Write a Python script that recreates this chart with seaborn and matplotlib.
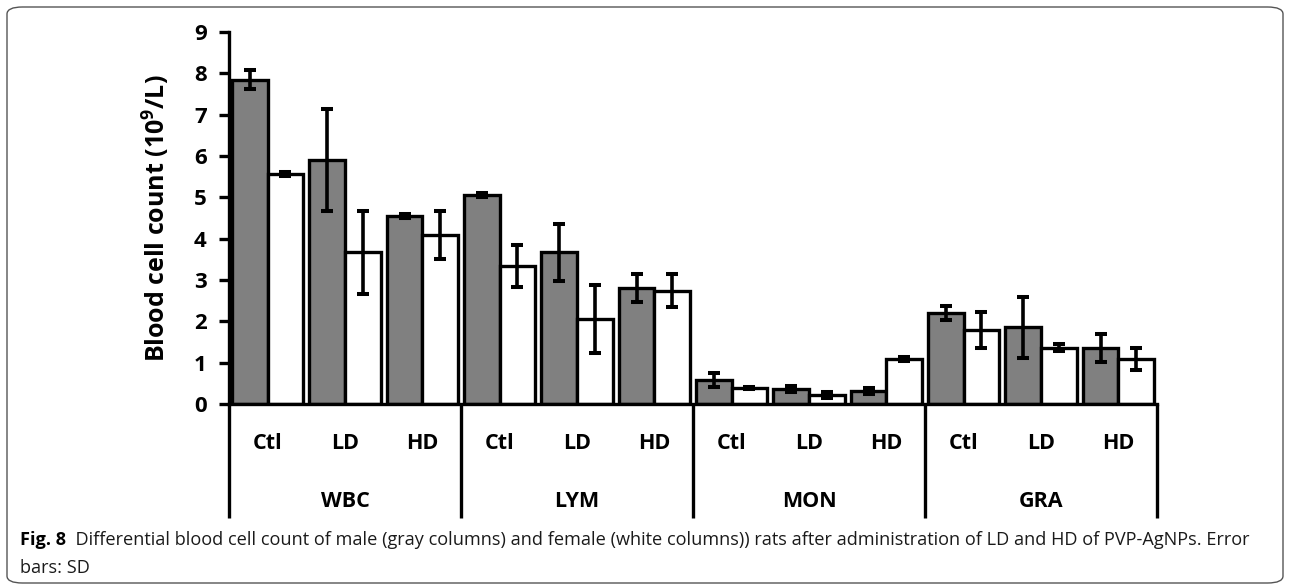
import numpy as np
import pandas as pd
import matplotlib
matplotlib.use("Agg")
import matplotlib.pyplot as plt
import matplotlib.transforms as mtransforms
from matplotlib.patches import FancyBboxPatch
import seaborn as sns

# Cell types and treatment groups
cell_types = ["WBC", "LYM", "MON", "GRA"]
treatments = ["Ctl", "LD", "HD"]
sexes = ["Male", "Female"]

# Mean counts (10^9/L) and SD, ordered cell type x treatment
male_mean = [7.85, 5.90, 4.54, 5.06, 3.67, 2.81, 0.58, 0.36, 0.32, 2.20, 1.86, 1.35]
male_sd = [0.22, 1.24, 0.05, 0.05, 0.69, 0.34, 0.16, 0.07, 0.07, 0.16, 0.74, 0.34]
female_mean = [5.56, 3.67, 4.09, 3.34, 2.06, 2.74, 0.38, 0.22, 1.09, 1.79, 1.36, 1.09]
female_sd = [0.05, 1.00, 0.58, 0.50, 0.82, 0.40, 0.02, 0.07, 0.05, 0.44, 0.08, 0.27]

caption_bold = "Fig. 8"
caption_rest = ("  Differential blood cell count of male (gray columns) and female (white columns)) "
                "rats after administration of LD and HD of PVP-AgNPs. Error")
caption_line2 = "bars: SD"

sns.set_theme(style="white")
chart_font = ["Open Sans", "DejaVu Sans"]
plt.rcParams["font.family"] = chart_font
plt.rcParams["mathtext.fontset"] = "custom"
plt.rcParams["mathtext.rm"] = "Open Sans:bold"
plt.rcParams["mathtext.default"] = "rm"

keys = [f"{c} {t}" for c in cell_types for t in treatments]
df = pd.DataFrame({
    "key": keys * 2,
    "sex": ["Male"] * len(keys) + ["Female"] * len(keys),
    "count": male_mean + female_mean,
})

fig = plt.figure(figsize=(12.9, 5.86), dpi=100)
ax = fig.add_axes([229 / 1290, 1 - 404 / 586, 928 / 1290, 372 / 586])

lw = 2.4
sns.barplot(data=df, x="key", y="count", hue="sex", order=keys, hue_order=sexes,
            palette={"Male": "#808080", "Female": "#ffffff"}, width=0.92,
            edgecolor="black", linewidth=lw, errorbar=None, legend=False,
            saturation=1, ax=ax)

# SD error bars on each bar
for cont, means, sds in zip(ax.containers, [male_mean, female_mean], [male_sd, female_sd]):
    xs = [p.get_x() + p.get_width() / 2 for p in cont.patches]
    ax.errorbar(xs, means, yerr=sds, fmt="none", ecolor="black",
                elinewidth=lw + 0.2, capsize=4.5, capthick=lw + 0.5, zorder=5)

ax.set_xlim(-0.5, len(keys) - 0.5)
ax.set_ylim(0, 9)
ax.set_yticks(range(0, 10))
ax.set_ylabel("Blood cell count (10$^9$/L)", fontsize=18, fontweight="bold",
              labelpad=16, color="black")
ax.set_xlabel("")

for s in ["top", "right"]:
    ax.spines[s].set_visible(False)
for s in ["left", "bottom"]:
    ax.spines[s].set_linewidth(lw)
    ax.spines[s].set_color("black")
    ax.spines[s].set_capstyle("projecting")

ax.tick_params(axis="y", which="major", direction="out", length=7, width=lw,
               color="black", left=True, labelsize=16, pad=9, labelcolor="black")
for lab in ax.get_yticklabels():
    lab.set_fontweight("bold")

ax.set_xticks(range(len(keys)))
ax.set_xticklabels([t for c in cell_types for t in treatments], fontsize=15.5,
                   fontweight="bold", color="black")
ax.tick_params(axis="x", length=0, pad=21)

# Group separators and cell type labels below the axis
trans = mtransforms.blended_transform_factory(ax.transData, ax.transAxes)
for i in range(len(cell_types) + 1):
    x = -0.5 + 3 * i
    ax.plot([x, x], [0, -0.307], transform=trans, color="black", lw=lw,
            clip_on=False, solid_capstyle="butt")
for i, c in enumerate(cell_types):
    ax.text(1 + 3 * i, -0.262, c, transform=trans, ha="center", va="center",
            fontsize=15.5, fontweight="bold", color="black")

# Rounded frame around the figure
frame = FancyBboxPatch((7 / 1290, 3 / 586), 1276 / 1290, 576 / 586,
                       boxstyle="round,pad=0,rounding_size=0.012",
                       transform=fig.transFigure, facecolor="none",
                       edgecolor="#555555", linewidth=1.0)
fig.patches.append(frame)

# Caption
cap_font = ["Open Sans", "DejaVu Sans"]
t1 = fig.text(20 / 1290, 1 - 540 / 586, caption_bold, fontsize=13.1, fontweight="bold",
              family=cap_font, va="center", ha="left", color="black")
fig.canvas.draw()
bb = t1.get_window_extent()
fig.text(bb.x1 / 1290, 1 - 540 / 586, caption_rest, fontsize=13.1, family=cap_font,
         va="center", ha="left", color="#1a1a1a")
fig.text(20 / 1290, 1 - 568 / 586, caption_line2, fontsize=13.1, family=cap_font,
         va="center", ha="left", color="#1a1a1a")

fig.savefig("out.png", dpi=100, facecolor="white")
